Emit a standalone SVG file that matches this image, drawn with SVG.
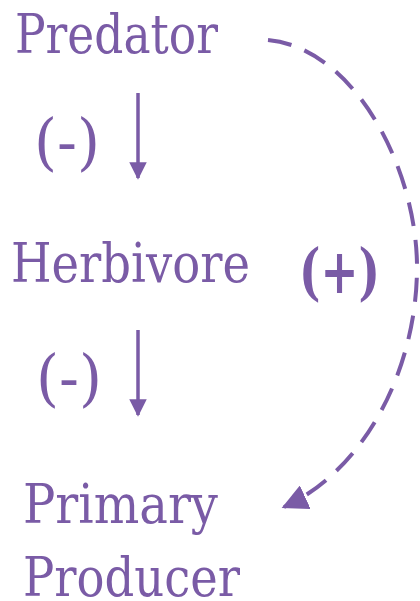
<svg xmlns="http://www.w3.org/2000/svg" width="420" height="601" viewBox="0 0 420 601">
<defs>
<style>
.t{font-family:'DejaVu Serif','Liberation Serif',serif;fill:#7a5ba6;font-size:55px}
.p{font-size:61px}
.b{font-weight:bold;font-size:62px}
.ln{stroke:#7a5ba6;stroke-width:3.5;fill:none}
</style>
<marker id="ah" viewBox="0 0 10 10" refX="9" refY="5" markerWidth="5" markerHeight="5" orient="auto" markerUnits="strokeWidth">
<path d="M0,0 L10,5 L0,10 Z" fill="#7a5ba6"/>
</marker>
<marker id="ah2" viewBox="0 0 10 10" refX="9" refY="5" markerWidth="6.5" markerHeight="6.5" orient="auto" markerUnits="strokeWidth">
<path d="M0,0 L10,5 L0,10 Z" fill="#7a5ba6"/>
</marker>
</defs>
<rect width="420" height="601" fill="#ffffff"/>
<g id="predator"><text class="t" x="15" y="53" textLength="203" lengthAdjust="spacingAndGlyphs">Predator</text></g>
<g id="herbivore"><text class="t" x="11" y="282" textLength="239" lengthAdjust="spacingAndGlyphs">Herbivore</text></g>
<g id="primary-producer"><text class="t" x="23" y="523" textLength="195" lengthAdjust="spacingAndGlyphs">Primary</text><text class="t" x="23" y="596" textLength="217" lengthAdjust="spacingAndGlyphs">Producer</text></g>
<g id="labels">
<text class="t p" x="34" y="163" textLength="66" lengthAdjust="spacingAndGlyphs">(-)</text>
<text class="t p" x="36" y="399" textLength="66" lengthAdjust="spacingAndGlyphs">(-)</text>
<text class="t b" x="299" y="293" textLength="81" lengthAdjust="spacingAndGlyphs">(+)</text>
</g>
<g id="connectors">
<line class="ln" x1="138" y1="93" x2="138" y2="178" marker-end="url(#ah)"/>
<line class="ln" x1="138" y1="330" x2="138" y2="415" marker-end="url(#ah)"/>
<path class="ln" style="stroke-width:4" d="M268,40 C355,48 418,170 417,270 C416,370 365,470 284,507" stroke-dasharray="24,14" marker-end="url(#ah2)"/>
</g>
</svg>
